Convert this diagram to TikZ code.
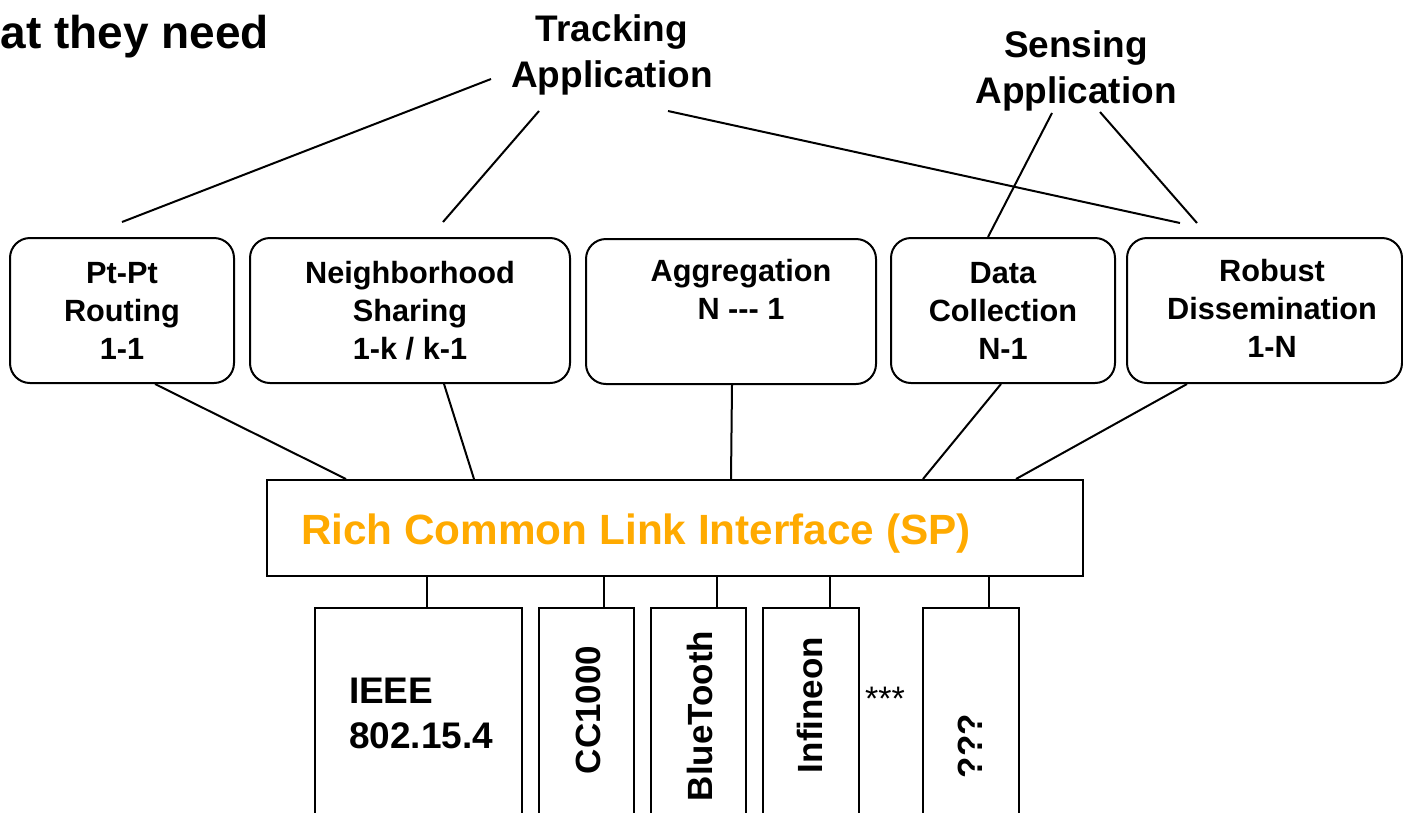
\documentclass[tikz,border=0pt]{standalone}
\usepackage{fontspec}
\setmainfont{Liberation Sans}
\definecolor{sporange}{RGB}{255,170,0}
\begin{document}
\begin{tikzpicture}[x=1pt,y=-1pt,line width=2pt,
  appbox/.style={draw, rounded corners=20pt, minimum height=145pt, align=center,
    font=\fontsize{30.7}{38}\selectfont\bfseries, inner sep=0pt},
  apptitle/.style={align=center, font=\fontsize{37}{46}\selectfont\bfseries, inner sep=0pt},
  radiobox/.style={draw, anchor=north, minimum height=260pt, inner sep=0pt},
  radiolabel/.style={rotate=90, font=\fontsize{35}{42}\selectfont\bfseries, inner sep=0pt},
  link/.style={line width=2pt}]
\useasboundingbox (0,0) rectangle (1403,812);
\clip (0,0) rectangle (1403,812);

% title fragment
\node[anchor=base east, font=\fontsize{46}{55}\selectfont\bfseries, inner sep=0pt] (title) at (270,48) {at they need};

% applications
\node[apptitle] (trk) at (612,55) {Tracking\\Application};
\node[apptitle] (sen) at (1076,71) {Sensing\\Application};

% service boxes
\node[appbox, minimum width=224pt] (pt) at (122,310.5) {Pt-Pt\\Routing\\1-1};
\node[appbox, minimum width=320pt] (nb) at (410,310.5) {Neighborhood\\Sharing\\1-k / k-1};
\node[appbox, minimum width=290pt, anchor=north] (ag) at (731,238) {};
\node[align=center, font=\fontsize{30.7}{38}\selectfont\bfseries, inner sep=0pt, anchor=north] (agt) at (741,258) {Aggregation\\N -{}-{}- 1};
\node[appbox, minimum width=224pt] (dc) at (1003,310.5) {Data\\Collection\\N-1};
\node[appbox, minimum width=275pt] (rd) at (1264.5,310.5) {};
\node[align=center, font=\fontsize{30.7}{38}\selectfont\bfseries, inner sep=0pt] (rdt) at (1272,308.5) {Robust\\Dissemination\\1-N};

% common link interface
\node[draw, minimum width=816pt, minimum height=96pt, inner sep=0pt] (sp) at (675,528) {};
\node[anchor=base west, text=sporange, font=\fontsize{42.3}{50}\selectfont\bfseries, inner sep=0pt] (spt) at (300,544) {Rich Common Link Interface (SP)};

% radio boxes
\node[radiobox, minimum width=207pt] (ieee) at (418.5,607) {};
\node[radiobox, minimum width=95pt] (cc) at (586.5,607) {};
\node[radiobox, minimum width=95pt] (bt) at (698.5,607) {};
\node[radiobox, minimum width=96pt] (inf) at (811,607) {};
\node[radiobox, minimum width=96pt] (qq) at (971,607) {};

\node[anchor=north west, align=left, font=\fontsize{37}{45}\selectfont\bfseries, inner sep=0pt] (ieeet) at (348,677) {IEEE\\802.15.4};
\node[radiolabel] (cct) at (588,710) {CC1000};
\node[radiolabel] (btt) at (700,716) {BlueTooth};
\node[radiolabel] (inft) at (810,705) {Infineon};
\node[radiolabel] (qqt) at (970,746) {???};
\node[anchor=base, font=\fontsize{34}{40}\selectfont, inner sep=0pt] (stars) at (885,710) {***};

% application connectors (free ends)
\coordinate (t1) at (491,79);  \coordinate (t1e) at (122,222);
\coordinate (t2) at (539,111); \coordinate (t2e) at (443,222);
\coordinate (t3) at (668,111); \coordinate (t3e) at (1180,223);
\coordinate (s1) at (1052,113);
\coordinate (s2) at (1100,112); \coordinate (s2e) at (1197,223);
\draw[link] (t1) -- (t1e);
\draw[link] (t2) -- (t2e);
\draw[link] (t3) -- (t3e);
\draw[link] (s1) -- ([xshift=-15pt]dc.north);
\draw[link] (s2) -- (s2e);

% services to SP
\draw[link] ([xshift=33pt]pt.south) -- ([xshift=80pt]sp.north west);
\draw[link] ([xshift=34pt]nb.south) -- ([xshift=208pt]sp.north west);
\draw[link] ([xshift=1pt]ag.south) -- ([xshift=465pt]sp.north west);
\draw[link] ([xshift=-2pt]dc.south) -- ([xshift=657pt]sp.north west);
\draw[link] ([xshift=-77.5pt]rd.south) -- ([xshift=750pt]sp.north west);

% SP to radios
\draw[link] ([xshift=8.5pt]ieee.north) -- ([xshift=8.5pt]ieee.north |- sp.south);
\draw[link] ([xshift=17.5pt]cc.north) -- ([xshift=17.5pt]cc.north |- sp.south);
\draw[link] ([xshift=18.5pt]bt.north) -- ([xshift=18.5pt]bt.north |- sp.south);
\draw[link] ([xshift=19pt]inf.north) -- ([xshift=19pt]inf.north |- sp.south);
\draw[link] ([xshift=18pt]qq.north) -- ([xshift=18pt]qq.north |- sp.south);
\end{tikzpicture}
\end{document}
